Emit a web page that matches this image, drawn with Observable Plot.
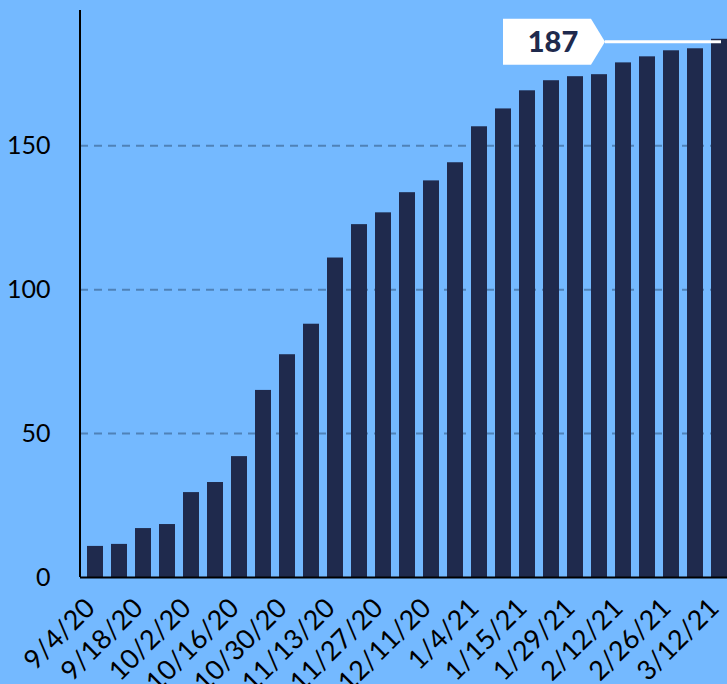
<!DOCTYPE html>
<html>
<head>
<meta charset="utf-8">
<script src="https://cdn.jsdelivr.net/npm/d3@7"></script>
<script src="https://cdn.jsdelivr.net/npm/@observablehq/plot@0.6"></script>
<style>
html, body { margin: 0; padding: 0; background: #74b9ff; }
#chart svg { display: block; }
</style>
</head>
<body>
<div id="chart"></div>
<script>
// Weekly report dates (categories)
const dates = [
  "9/4/20", "9/11/20", "9/18/20", "9/25/20", "10/2/20", "10/9/20", "10/16/20",
  "10/23/20", "10/30/20", "11/6/20", "11/13/20", "11/20/20", "11/27/20", "12/4/20",
  "12/11/20", "12/18/20", "1/4/21", "1/8/21", "1/15/21", "1/22/21", "1/29/21",
  "2/5/21", "2/12/21", "2/19/21", "2/26/21", "3/5/21", "3/12/21"
];
// Cumulative values
const values = [
  10.8, 11.5, 17, 18.4, 29.5, 33, 42,
  65, 77.4, 88, 111, 122.6, 126.7, 133.7,
  137.8, 144.1, 156.6, 162.8, 169.1, 172.6, 174,
  174.7, 178.8, 180.9, 183, 183.7, 187
];
// Tick labels shown on the x axis
const xTickLabels = [
  "9/4/20", "9/18/20", "10/2/20", "10/16/20", "10/30/20", "11/13/20", "11/27/20",
  "12/11/20", "1/4/21", "1/15/21", "1/29/21", "2/12/21", "2/26/21", "3/12/21"
];
const yTicks = [0, 50, 100, 150];
const gridTicks = [50, 100, 150];
const calloutText = "187";
const calloutAnchorDate = "1/22/21";

const data = dates.map((d, i) => ({date: d, value: values[i]}));

const NAVY = "#1f2a4d";
const FONT = "Lato, 'Open Sans', sans-serif";

function axisLine(index, scales, vals, dims) {
  const g = d3.create("svg:g");
  g.append("line")
    .attr("x1", dims.marginLeft).attr("x2", dims.marginLeft)
    .attr("y1", dims.marginTop).attr("y2", dims.height - dims.marginBottom)
    .attr("stroke", "black").attr("stroke-width", 2);
  return g.node();
}

function callout(index, scales, vals, dims) {
  const sx = scales.x, sy = scales.y;
  const bw = typeof sx.bandwidth === "function" ? sx.bandwidth() : (sx.bandwidth ?? 16);
  const last = values.length - 1;
  const endX = sx(dates[last]) + bw - 6;
  const cx = sx(calloutAnchorDate) + bw / 2;
  const cy = sy(values[last]) + 3;
  const left = cx - 48, flat = cx + 40, tip = cx + 54, half = 23;
  const g = d3.create("svg:g");
  g.append("line")
    .attr("x1", tip).attr("x2", endX).attr("y1", cy).attr("y2", cy)
    .attr("stroke", "white").attr("stroke-width", 3);
  g.append("path")
    .attr("d", `M${left},${cy - half}H${flat}L${tip},${cy}L${flat},${cy + half}H${left}Z`)
    .attr("fill", "white");
  g.append("text")
    .attr("x", cx + 2).attr("y", cy).attr("dy", "0.36em")
    .attr("text-anchor", "middle")
    .attr("font-family", FONT).attr("font-weight", 900).attr("font-size", 29)
    .attr("fill", NAVY)
    .text(calloutText);
  return g.node();
}

const chart = Plot.plot({
  width: 727,
  height: 684,
  marginLeft: 80,
  marginRight: 0,
  marginTop: 10,
  marginBottom: 107,
  style: {background: "#74b9ff", fontFamily: FONT, color: "black"},
  x: {type: "band", domain: dates, paddingInner: 0.336, paddingOuter: 0.04, align: 1, label: null},
  y: {domain: [0, 197], label: null},
  marks: [
    Plot.gridY(gridTicks, {stroke: "#4f82b8", strokeOpacity: 1, strokeWidth: 2, strokeDasharray: "8,6"}),
    Plot.barY(data, {x: "date", y: "value", fill: NAVY}),
    Plot.ruleY([0], {stroke: "black", strokeWidth: 2}),
    axisLine,
    Plot.axisY(yTicks, {tickSize: 0, tickPadding: 30, fontSize: 25, fill: "black", label: null}),
    Plot.axisX(xTickLabels, {tickSize: 0, tickPadding: 26, dx: -5, tickRotate: -45, fontSize: 27, fill: "black", label: null}),
    callout
  ]
});
document.getElementById("chart").appendChild(chart);
</script>
</body>
</html>
